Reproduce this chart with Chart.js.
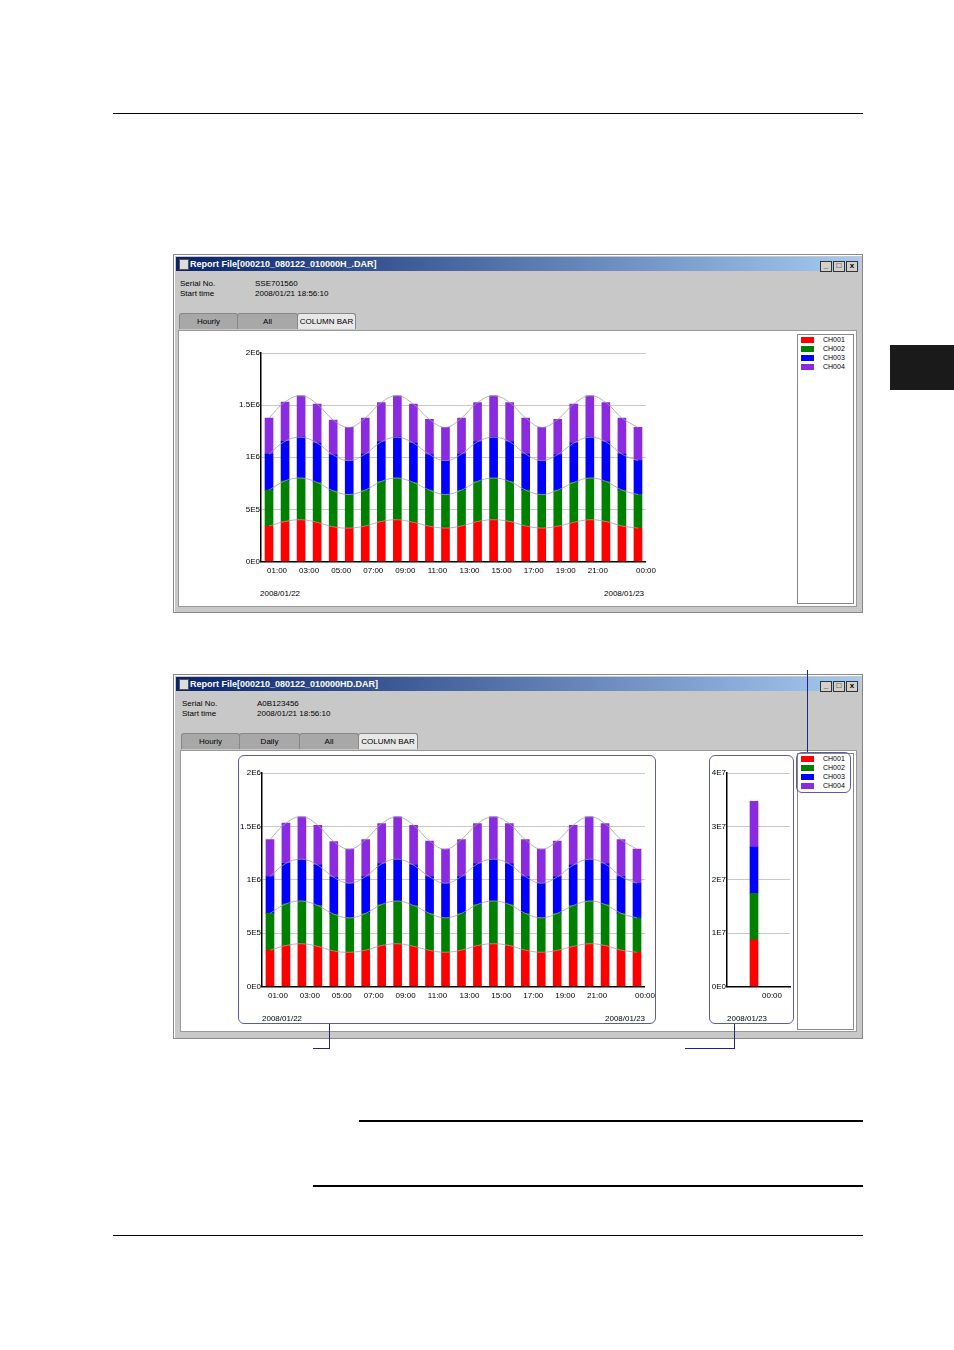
<!DOCTYPE html>
<html>
<head>
<meta charset="utf-8">
<title>Report File column bar</title>
<script src="https://cdn.jsdelivr.net/npm/chart.js"></script>
<style>
  body { margin: 0; width: 954px; height: 1350px; position: relative; background: #fff; font-family: 'Liberation Sans', Arial, sans-serif; overflow: hidden; }
  .abs { position: absolute; }
  .rule { position: absolute; height: 0; border-top: 1px solid #000; }
  .win { position: absolute; background: #c8c8c8; border: 1px solid #888; box-shadow: inset 1px 1px 0 #fff; }
  .title { position: absolute; left: 2px; right: 2px; top: 2px; height: 14px; background: linear-gradient(to right, #0a246a, #a6caf0); color: #fff; font-weight: bold; font-size: 9px; line-height: 14px; padding-left: 14px; }
  .title .ico { position: absolute; left: 3px; top: 2px; width: 8px; height: 9px; background: #ddd; border: 1px solid #555; }
  .btns { position: absolute; right: 2px; top: 1px; }
  .btns span { display: inline-block; width: 10px; height: 9px; background: #d4d0c8; border: 1px solid #333; margin-left: 1px; font-size: 8px; line-height: 8px; text-align: center; color: #000; }
  .info { position: absolute; font-size: 8px; color: #000; line-height: 10px; }
  .tab { position: absolute; height: 15px; background: #a8a8a8; border: 1px solid #888; border-bottom: none; border-radius: 3px 3px 0 0; font-size: 8px; line-height: 15px; text-align: center; color: #000; }
  .tab.on { background: #e8e8e8; }
  .pane { position: absolute; background: #fff; border: 1px solid #999; }
  .legend { position: absolute; background: #fff; border: 1px solid #888; }
  .legend div { position: relative; height: 9px; font-size: 7px; line-height: 9px; padding-left: 25px; color: #000; }
  .legend i { position: absolute; left: 3px; top: 2px; width: 13px; height: 6px; }
  .lbl { position: absolute; font-size: 8px; color: #000; }
  .rbox { position: absolute; border: 1.5px solid #5a5ab0; border-radius: 6px; }
  .vl { position: absolute; width: 0; border-left: 1px solid #22228a; }
  .hl { position: absolute; height: 0; border-top: 1px solid #22228a; }
  canvas { position: absolute; }
</style>
</head>
<body>
<div class="rule" style="left:113px;top:113px;width:750px"></div>
<div class="rule" style="left:113px;top:1235px;width:750px"></div>
<div class="rule" style="left:359px;top:1120px;width:504px;border-top-width:2px"></div>
<div class="rule" style="left:313px;top:1185px;width:550px;border-top-width:2px"></div>
<div class="abs" style="left:890px;top:345px;width:64px;height:45px;background:#1a1a1a"></div>

<!-- window 1 -->
<div class="win" style="left:173px;top:254px;width:688px;height:357px">
  <div class="title"><span class="ico"></span>Report File[000210_080122_010000H_.DAR]<div class="btns"><span>_</span><span>□</span><span>x</span></div></div>
  <div class="info" style="left:6px;top:24px">Serial No.<br>Start time</div>
  <div class="info" style="left:81px;top:24px">SSE701560<br>2008/01/21 18:56:10</div>
  <div class="tab" style="left:5px;top:58px;width:57px">Hourly</div>
  <div class="tab" style="left:63px;top:58px;width:59px">All</div>
  <div class="tab on" style="left:123px;top:58px;width:57px">COLUMN BAR</div>
  <div class="pane" style="left:4px;top:75px;width:677px;height:275px"></div>
  <div class="legend" style="left:623px;top:79px;width:55px;height:268px">
    <div><i style="background:#ff0000"></i>CH001</div><div><i style="background:#008000"></i>CH002</div>
    <div><i style="background:#0000ff"></i>CH003</div><div><i style="background:#8a2be2"></i>CH004</div>
  </div>
</div>
<canvas id="c1" style="left:228px;top:345px;width:430px;height:233px" width="430" height="233"></canvas>
<div class="lbl" style="left:260px;top:589px">2008/01/22</div>
<div class="lbl" style="left:604px;top:589px">2008/01/23</div>

<!-- window 2 -->
<div class="win" style="left:173px;top:674px;width:688px;height:363px">
  <div class="title"><span class="ico"></span>Report File[000210_080122_010000HD.DAR]<div class="btns"><span>_</span><span>□</span><span>x</span></div></div>
  <div class="info" style="left:8px;top:24px">Serial No.<br>Start time</div>
  <div class="info" style="left:83px;top:24px">A0B123456<br>2008/01/21 18:56:10</div>
  <div class="tab" style="left:7px;top:58px;width:57px">Hourly</div>
  <div class="tab" style="left:65px;top:58px;width:59px">Daily</div>
  <div class="tab" style="left:125px;top:58px;width:58px">All</div>
  <div class="tab on" style="left:184px;top:58px;width:58px">COLUMN BAR</div>
  <div class="pane" style="left:6px;top:75px;width:675px;height:280px"></div>
  <div class="legend" style="left:623px;top:78px;width:55px;height:275px">
    <div><i style="background:#ff0000"></i>CH001</div><div><i style="background:#008000"></i>CH002</div>
    <div><i style="background:#0000ff"></i>CH003</div><div><i style="background:#8a2be2"></i>CH004</div>
  </div>
</div>
<canvas id="c2" style="left:229px;top:765px;width:428px;height:238px" width="428" height="238"></canvas>
<canvas id="c3" style="left:694px;top:765px;width:97px;height:238px" width="97" height="238"></canvas>
<div class="rbox" style="left:238px;top:755px;width:416px;height:267px"></div>
<div class="rbox" style="left:709px;top:755px;width:83px;height:267px"></div>
<div class="rbox" style="left:796px;top:752px;width:53px;height:39px"></div>
<div class="lbl" style="left:262px;top:1014px">2008/01/22</div>
<div class="lbl" style="left:605px;top:1014px">2008/01/23</div>
<div class="lbl" style="left:727px;top:1014px">2008/01/23</div>
<div class="vl" style="left:807px;top:670px;height:82px"></div>
<div class="vl" style="left:329px;top:1024px;height:25px"></div>
<div class="hl" style="left:313px;top:1048px;width:16px"></div>
<div class="vl" style="left:734px;top:1024px;height:25px"></div>
<div class="hl" style="left:685px;top:1048px;width:49px"></div>

<script>
const channels = ['CH001', 'CH002', 'CH003', 'CH004'];
const colors = ['#ff0000', '#008000', '#0000ff', '#8a2be2'];
// hourly values, 24 hours (01:00 .. 00:00)
const ch001 = [340000, 383000, 400000, 375000, 332000, 320000, 340000, 383000, 400000, 375000, 338000, 320000,
               340000, 383000, 400000, 383000, 340000, 320000, 338000, 375000, 400000, 383000, 340000, 320000];
const ch002 = [344000, 390000, 400000, 383000, 345000, 322000, 344000, 385000, 400000, 383000, 346000, 322000,
               344000, 385000, 400000, 385000, 344000, 322000, 346000, 383000, 400000, 385000, 344000, 322000];
const ch003 = [346000, 380000, 392000, 378000, 345000, 325000, 346000, 380000, 392000, 378000, 342000, 325000,
               346000, 380000, 392000, 380000, 346000, 325000, 342000, 378000, 392000, 380000, 346000, 325000];
const ch004 = [346000, 377000, 398000, 374000, 335000, 319000, 346000, 377000, 398000, 374000, 337000, 319000,
               346000, 377000, 398000, 377000, 346000, 319000, 337000, 374000, 398000, 377000, 346000, 319000];
// daily totals
const daily = [8720000, 8730000, 8650000, 8600000];
const yTicks1 = ['0E0', '5E5', '1E6', '1.5E6', '2E6'];
const yTicks2 = ['0E0', '1E7', '2E7', '3E7', '4E7'];

Chart.defaults.font.family = "'Liberation Sans', Arial, sans-serif";
Chart.defaults.font.size = 8;
Chart.defaults.color = '#000';

function hourLabel(v) {
  if (v === 24) return '00:00';
  if (v % 2 === 1 && v <= 21) return String(v).padStart(2, '0') + ':00';
  return '';
}

function makeDatasets(series, xs) {
  const ds = [];
  const cum = xs.map(() => 0);
  series.forEach((s, k) => {
    ds.push({ type: 'bar', label: channels[k], data: s.map((v, i) => ({ x: xs[i], y: v })),
      backgroundColor: colors[k], barThickness: 8, stack: 'bars', order: 2 });
    s.forEach((v, i) => cum[i] += v);
    if (xs.length > 1) {
      ds.push({ type: 'line', data: cum.map((v, i) => ({ x: xs[i], y: v })), borderColor: '#a0a0a0',
        borderWidth: 0.8, pointRadius: 0, tension: 0.4, stack: 'line' + k, order: 1 });
    }
  });
  return ds;
}

function makeChart(id, series, xs, xmax, yMax, yLabels, xTicks, labelFn) {
  new Chart(document.getElementById(id), {
    type: 'bar',
    data: { datasets: makeDatasets(series, xs) },
    options: {
      animation: false, responsive: false,
      layout: { padding: { top: 8, right: 1, left: 0, bottom: 0 } },
      plugins: { legend: { display: false }, tooltip: { enabled: false } },
      scales: {
        x: { type: 'linear', min: 0, max: xmax, stacked: true, offset: false,
          grid: { display: false, drawOnChartArea: false, tickLength: 3, color: '#000' },
          border: { color: '#000', width: 1.5 },
          afterBuildTicks: ax => { ax.ticks = xTicks.map(v => ({ value: v })); },
          ticks: { autoSkip: false, maxRotation: 0, padding: 2, callback: v => labelFn(v) } },
        y: { stacked: true, min: 0, max: yMax,
          afterFit: ax => { ax.width = 33; },
          grid: { color: '#c8c8c8', tickLength: 0 },
          border: { color: '#000', width: 1.5 },
          ticks: { stepSize: yMax / 4, padding: 1, callback: (v, i) => yLabels[i] } }
      }
    }
  });
}

const hours = ch001.map((_, i) => i + 0.5);
const odd = [1, 3, 5, 7, 9, 11, 13, 15, 17, 19, 21, 24];
makeChart('c1', [ch001, ch002, ch003, ch004], hours, 24, 2000000, yTicks1, odd, hourLabel);
makeChart('c2', [ch001, ch002, ch003, ch004], hours, 24, 2000000, yTicks1, odd, hourLabel);
makeChart('c3', daily.map(v => [v]), [0.6], 1.4, 40000000, yTicks2, [1], () => '00:00');
</script>
</body>
</html>
